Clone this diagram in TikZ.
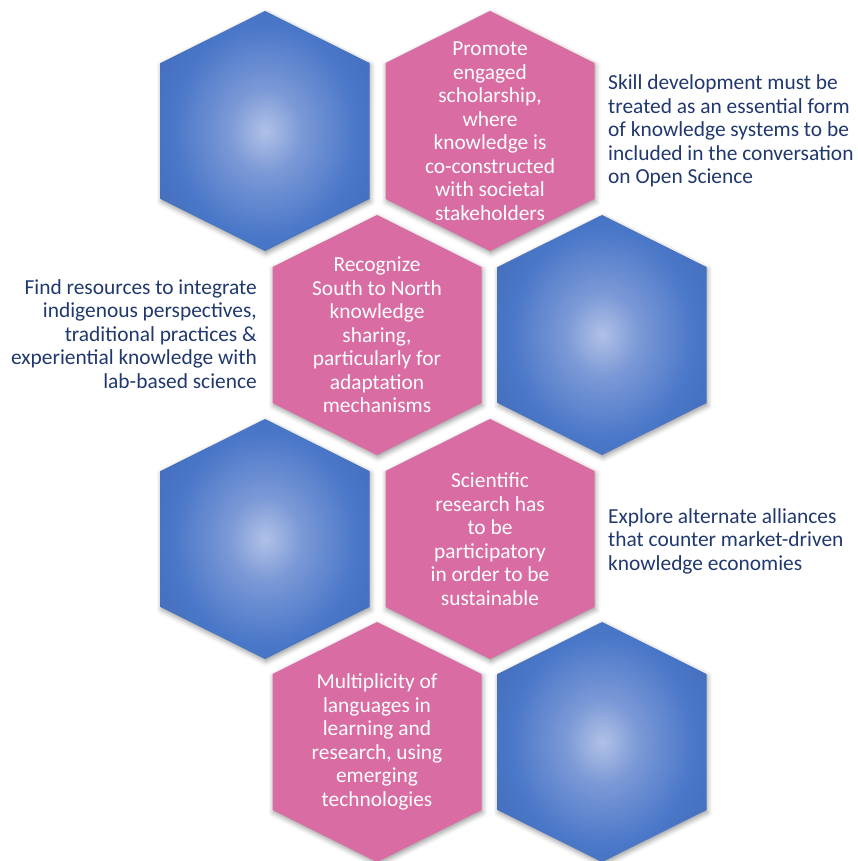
\documentclass[tikz,border=0pt]{standalone}
\usepackage{fontspec}
\setmainfont{Carlito}
\usetikzlibrary{shadows.blur}
\definecolor{hexpink}{RGB}{217,108,162}
\definecolor{navytext}{RGB}{32,56,110}
\definecolor{blA}{RGB}{176,193,230}
\definecolor{blB}{RGB}{122,152,214}
\definecolor{blC}{RGB}{74,119,200}
\definecolor{blD}{RGB}{64,102,178}
\definecolor{blE}{RGB}{52,84,146}
\pgfdeclareradialshading{bluehex}{\pgfpoint{0bp}{0bp}}{color(0bp)=(blA); color(9bp)=(blB); color(22bp)=(blC); color(38bp)=(blD); color(58bp)=(blE)}
\tikzset{
  hexshadow/.style={blur shadow={shadow xshift=1pt, shadow yshift=-2.5pt, shadow blur radius=5pt, shadow opacity=40}},
  bluehexstyle/.style={hexshadow, shading=bluehex},
  pinkhexstyle/.style={hexshadow, fill=hexpink},
  hextext/.style={text=white, align=center, font=\fontsize{21.4}{23.5}\selectfont},
  sidetext/.style={text=navytext, font=\fontsize{21.4}{23.5}\selectfont, inner sep=0pt},
}
\newcommand\hexshape{(-104.5,-68) -- (0,-120) -- (104.5,-68) -- (104.5,68) -- (0,120) -- (-104.5,68) -- cycle}
\begin{document}
\begin{tikzpicture}[x=1pt,y=-1pt]
\useasboundingbox (0,0) rectangle (858,861);
% blue hexagons
\foreach \cx/\cy in {265/131, 602/335, 265/539, 602/742}{
  \shade[bluehexstyle, shift={(\cx,\cy)}] \hexshape;
}
% pink hexagons
\foreach \cx/\cy in {490/131, 377/335, 490/539, 377/742}{
  \path[pinkhexstyle, shift={(\cx,\cy)}] \hexshape;
}
% texts in pink hexagons
\node[hextext] (p1) at (490,131) {Promote\\engaged\\scholarship,\\where\\knowledge is\\co-constructed\\with societal\\stakeholders};
\node[hextext] (p2) at (377,335) {Recognize\\South to North\\knowledge\\sharing,\\particularly for\\adaptation\\mechanisms};
\node[hextext] (p3) at (490,539) {Scientific\\research has\\to be\\participatory\\in order to be\\sustainable};
\node[hextext] (p4) at (377,742) {Multiplicity of\\languages in\\learning and\\research, using\\emerging\\technologies};
% side texts
\node[sidetext, align=left, anchor=west] (s1) at (608,131) {Skill development must be\\treated as an essential form\\of knowledge systems to be\\included in the conversation\\on Open Science};
\node[sidetext, align=right, anchor=east] (s2) at (257,334) {Find resources to integrate\\indigenous perspectives,\\traditional practices \&\\experiential knowledge with\\lab-based science};
\node[sidetext, align=left, anchor=west] (s3) at (608,541) {Explore alternate alliances\\that counter market-driven\\knowledge economies};
\end{tikzpicture}
\end{document}
